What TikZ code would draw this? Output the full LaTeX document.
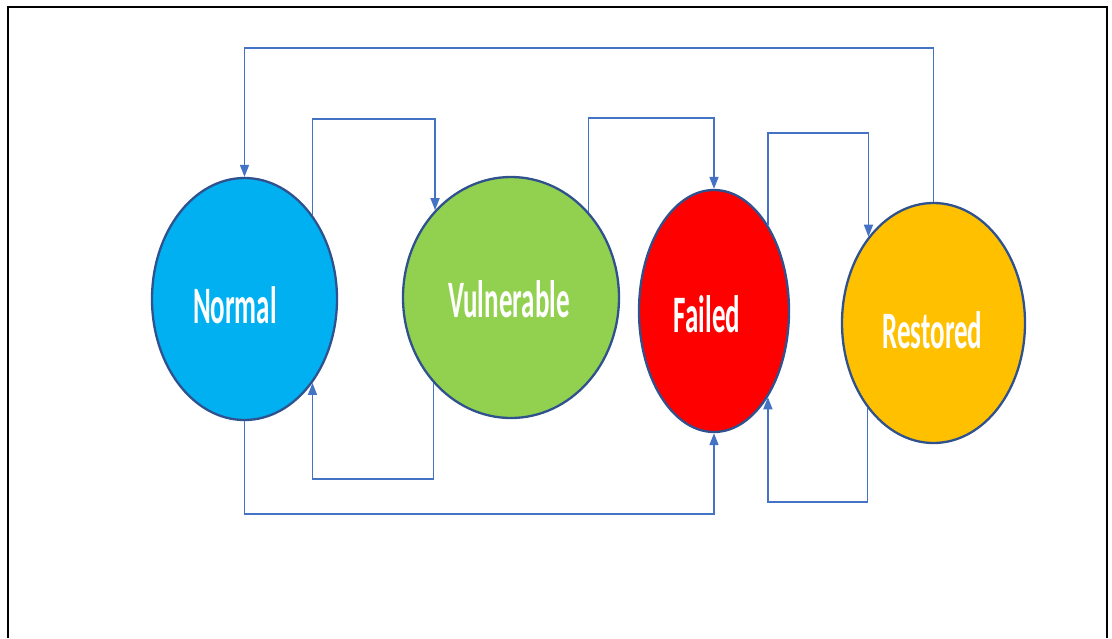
\documentclass[tikz,border=0pt]{standalone}
\usepackage{fontspec}
\setmainfont{Carlito}
\usetikzlibrary{shapes.geometric,arrows.meta}
\definecolor{cnormal}{HTML}{00B0F0}
\definecolor{cvuln}{HTML}{92D050}
\definecolor{cfail}{HTML}{FF0000}
\definecolor{crest}{HTML}{FFC000}
\definecolor{rim}{HTML}{2F528F}
\definecolor{link}{HTML}{4472C4}
\tikzset{
  state/.style={ellipse, draw=rim, line width=2.3pt, inner sep=0pt},
  lbl/.style={anchor=base, text=white, inner sep=0pt,
    font=\fontsize{27}{30}\selectfont\bfseries},
  flow/.style={draw=link, line width=1.5pt,
    -{Triangle[length=12pt,width=9pt]}},
}
\newcommand{\tall}[1]{\scalebox{1}[1.95]{#1}}
\begin{document}
\begin{tikzpicture}[x=1pt,y=-1pt]
\useasboundingbox (0,0) rectangle (1112,638);
% outer frame
\draw[line width=2.2pt, line join=miter] (8,638) -- (8,7) -- (1107,7) -- (1107,638);

% states
\node[state, fill=cnormal, minimum width=185pt, minimum height=242pt] (N) at (244.5,299) {};
\node[state, fill=cvuln,   minimum width=216pt, minimum height=241pt] (V) at (511,297.5) {};
\node[state, fill=cfail,   minimum width=150pt, minimum height=242pt] (F) at (714,311) {};
\node[state, fill=crest,   minimum width=183pt, minimum height=240pt] (R) at (933.5,323) {};

% state labels
\node[lbl] (Nt) at (235,323) {\tall{Normal}};
\node[lbl] (Vt) at (509,317) {\tall{Vulnerable}};
\node[lbl] (Ft) at (707,332) {\tall{Failed}};
\node[lbl] (Rt) at (932.5,348) {\tall{Restored}};

% transitions
\draw[flow] (R.north) -- (R.north |- 0,48) -| (N.north);
\draw[flow] (N.51.7) -- (N.51.7 |- 0,119) -| (V.131.6);
\draw[flow] (V.228.4) -- (V.228.4 |- 0,479) -| (N.-51.7);
\draw[flow] (V.48.4) -- (V.48.4 |- 0,118) -| (F.north);
\draw[flow] (N.south) -- (N.south |- 0,514) -| (F.south);
\draw[flow] (F.58.2) -- (F.58.2 |- 0,133) -| (R.127.2);
\draw[flow] (R.232.8) -- (R.232.8 |- 0,502) -| (F.-58.2);
\end{tikzpicture}
\end{document}
